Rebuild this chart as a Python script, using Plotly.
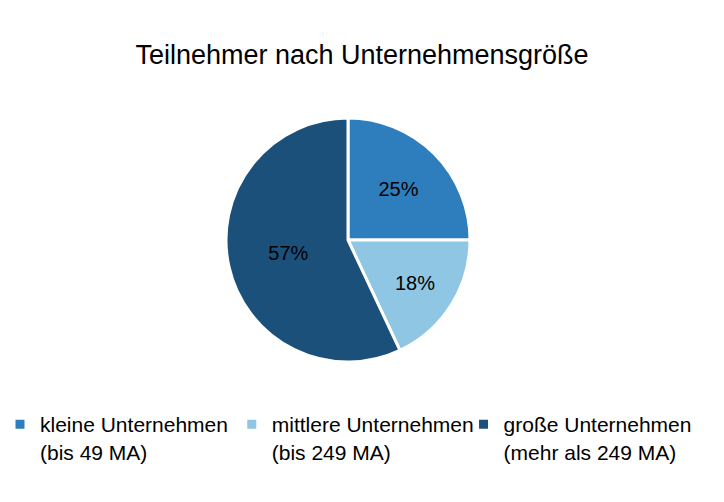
import plotly.graph_objects as go

labels = ["kleine Unternehmen<br>(bis 49 MA)", "mittlere Unternehmen<br>(bis 249 MA)", "große Unternehmen<br>(mehr als 249 MA)"]
values = [25, 18, 57]
colors = ["#2E7EBD", "#8EC6E4", "#1B507B"]

fig = go.Figure(go.Pie(
    labels=labels, values=values, sort=False, direction="clockwise", rotation=0,
    marker=dict(colors=colors, line=dict(color="white", width=3)),
    textinfo="percent", texttemplate="%{percent:.0%}", textposition="inside",
    insidetextfont=dict(color="black", size=20, family="Liberation Sans, Arial"),
    insidetextorientation="horizontal",
))
fig.update_layout(
    width=724, height=502,
    paper_bgcolor="white", plot_bgcolor="white",
    margin=dict(l=0, r=28, t=118, b=140),
    font=dict(family="Liberation Sans, Arial", color="black"),
    title=dict(text="Teilnehmer nach Unternehmensgröße", x=0.5, xref="container", y=1-55/502, yref="container",
               xanchor="center", yanchor="middle", font=dict(size=27, color="black")),
    legend=dict(orientation="h", xref="container", yref="container", x=0, y=1-404/502,
                xanchor="left", yanchor="top", font=dict(size=21, color="black"), valign="top",
                itemwidth=30, tracegroupgap=0, entrywidth=0.333, entrywidthmode="fraction"),
    showlegend=True,
)
fig.write_html("out.html")
